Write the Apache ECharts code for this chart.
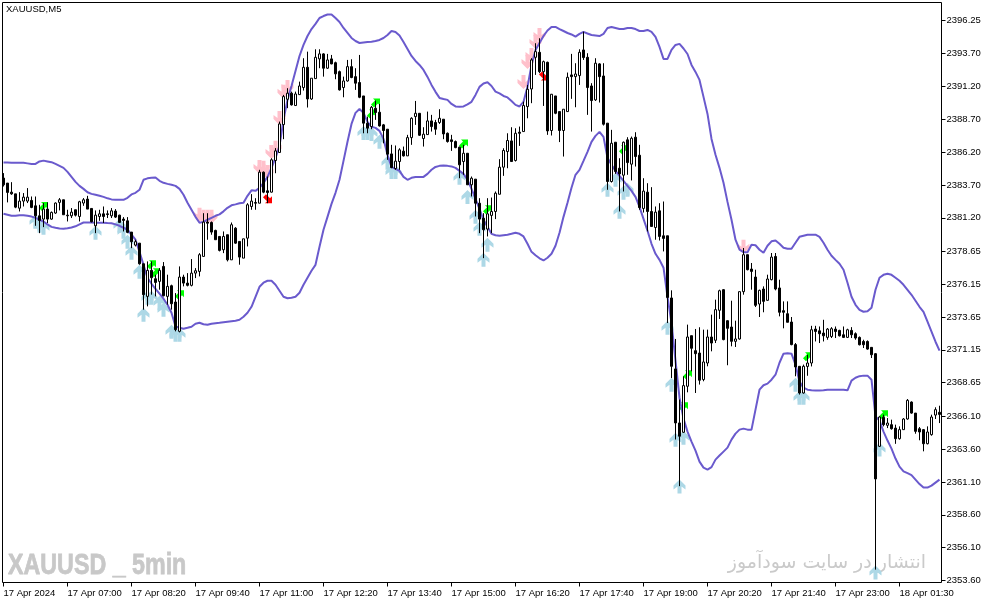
<!DOCTYPE html>
<html><head><meta charset="utf-8">
<style>html,body{margin:0;padding:0;background:#fff}#c{width:987px;height:605px}</style>
<script src="https://cdn.jsdelivr.net/npm/echarts@6/dist/echarts.min.js"></script>
</head><body><div id="c"></div>
<script>
const tickLabels=["17 Apr 2024","17 Apr 07:00","17 Apr 08:20","17 Apr 09:40","17 Apr 11:00","17 Apr 12:20","17 Apr 13:40","17 Apr 15:00","17 Apr 16:20","17 Apr 17:40","17 Apr 19:00","17 Apr 20:20","17 Apr 21:40","17 Apr 23:00","18 Apr 01:30"];
const priceTicks=[2396.25,2393.70,2391.20,2388.70,2386.20,2383.70,2381.20,2378.65,2376.15,2373.65,2371.15,2368.65,2366.10,2363.60,2361.10,2358.60,2356.10,2353.60];
const opens=[2384.22,2383.84,2383.15,2383.02,2381.93,2382.47,2382.47,2382.52,2382.11,2381.35,
2381.10,2381.86,2381.10,2381.56,2382.37,2382.57,2381.40,2381.35,2381.81,2381.30,
2382.32,2382.62,2381.91,2380.59,2381.30,2381.50,2381.50,2381.35,2381.71,2381.40,
2381.10,2380.97,2380.11,2379.12,2379.27,2377.70,2375.22,2377.20,2376.56,2376.36,
2377.50,2375.22,2376.03,2374.79,2372.56,2376.69,2376.23,2376.06,2376.99,2377.12,
2378.26,2380.87,2380.84,2380.24,2379.78,2378.77,2379.91,2378.00,2380.41,2379.40,
2378.13,2379.65,2382.06,2382.36,2382.31,2384.67,2383.25,2383.15,2385.56,2386.17,
2388.29,2390.22,2390.68,2389.74,2390.57,2391.11,2392.65,2390.24,2391.79,2393.29,
2393.67,2392.58,2393.29,2393.00,2392.32,2391.11,2391.61,2392.70,2391.94,2391.49,
2390.47,2388.40,2388.14,2389.53,2389.23,2388.27,2387.94,2386.06,2384.95,2385.48,
2386.27,2385.91,2387.30,2388.90,2389.15,2387.23,2387.53,2388.57,2388.45,2388.45,
2388.70,2387.63,2387.13,2387.00,2386.57,2385.48,2386.11,2383.71,2384.14,2382.31,
2381.17,2380.34,2381.38,2381.68,2382.99,2385.05,2386.24,2387.05,2385.56,2387.71,
2387.76,2389.66,2391.00,2393.41,2393.79,2392.32,2393.03,2387.84,2390.47,2389.28,
2387.84,2389.28,2392.07,2391.94,2392.02,2393.97,2393.41,2391.23,2390.17,2392.91,
2391.99,2388.40,2383.96,2386.95,2384.97,2384.44,2387.13,2385.28,2387.33,2385.96,
2381.91,2383.15,2381.68,2380.46,2381.73,2379.83,2379.83,2375.10,2369.70,2365.59,
2364.88,2368.38,2372.23,2371.09,2370.91,2368.89,2370.15,2372.13,2371.88,2374.16,
2375.73,2373.37,2372.89,2371.80,2371.98,2375.58,2378.39,2377.30,2376.69,2374.64,
2375.78,2374.92,2376.49,2378.26,2375.86,2374.13,2373.90,2373.27,2371.55,2369.90,
2367.87,2369.89,2370.15,2372.73,2372.60,2372.43,2372.10,2372.17,2372.73,2372.63,
2372.30,2372.10,2372.63,2372.38,2372.10,2371.79,2371.79,2371.34,2370.86,2363.81,
2366.02,2365.41,2365.46,2365.20,2364.39,2365.08,2365.89,2367.18,2366.34,2365.15,
2365.08,2364.01,2364.70,2366.19,2366.40];
const highs=[2384.60,2383.84,2383.91,2383.02,2383.15,2383.08,2383.46,2382.82,2382.82,2382.19,
2382.32,2382.37,2381.68,2382.37,2382.70,2382.57,2381.81,2381.94,2381.81,2382.49,
2382.70,2382.87,2381.91,2381.76,2381.81,2382.06,2381.76,2381.94,2381.86,2381.43,
2381.25,2381.25,2380.11,2379.53,2379.27,2377.70,2377.88,2377.88,2376.87,2377.37,
2377.83,2376.87,2376.11,2375.47,2377.50,2376.87,2376.99,2378.06,2377.37,2378.51,
2381.55,2381.55,2380.92,2380.29,2379.78,2380.16,2379.91,2380.84,2380.49,2379.40,
2379.60,2382.31,2383.00,2382.69,2384.85,2384.72,2384.34,2385.73,2386.50,2388.52,
2390.55,2391.06,2390.80,2390.80,2391.56,2393.34,2393.84,2391.82,2394.02,2394.02,
2393.72,2393.67,2393.59,2393.08,2392.40,2391.94,2393.21,2393.26,2392.58,2393.59,
2390.47,2388.90,2389.71,2390.12,2389.86,2388.34,2387.94,2386.75,2386.70,2386.49,
2386.62,2387.51,2388.85,2390.09,2389.15,2388.09,2389.28,2389.03,2388.65,2389.46,
2388.70,2387.69,2387.51,2387.08,2386.62,2386.75,2386.11,2384.34,2384.14,2382.69,
2381.55,2382.69,2382.74,2383.20,2385.66,2386.49,2387.63,2388.09,2388.01,2388.14,
2390.04,2391.31,2393.34,2394.48,2394.86,2393.16,2393.08,2390.62,2390.47,2389.28,
2389.46,2392.25,2393.67,2392.96,2394.02,2395.36,2393.72,2391.44,2393.34,2392.96,
2392.96,2388.40,2387.89,2386.95,2385.73,2387.00,2387.33,2387.38,2387.71,2386.75,
2384.21,2383.83,2383.53,2382.06,2382.31,2382.44,2379.83,2375.68,2371.98,2367.37,
2369.14,2373.07,2372.23,2372.74,2372.87,2372.69,2372.69,2373.83,2374.97,2375.73,
2375.78,2373.40,2374.89,2373.37,2375.60,2378.90,2378.39,2377.76,2377.25,2375.73,
2375.98,2376.87,2378.52,2378.52,2376.49,2374.84,2374.84,2373.65,2371.67,2369.90,
2370.03,2370.78,2372.98,2372.98,2372.93,2373.44,2372.81,2372.88,2372.93,2372.68,
2372.93,2372.76,2372.88,2372.48,2372.17,2371.92,2371.87,2371.36,2370.91,2366.09,
2366.22,2365.96,2365.84,2365.46,2365.33,2365.96,2367.41,2367.23,2366.34,2365.28,
2365.13,2365.33,2366.22,2366.78,2366.90];
const lows=[2383.58,2382.37,2382.95,2381.93,2381.68,2382.06,2382.32,2381.93,2380.59,2380.03,
2380.49,2380.80,2381.05,2381.50,2381.76,2381.43,2380.92,2381.18,2381.30,2380.92,
2382.11,2381.86,2380.85,2380.03,2380.97,2380.80,2381.18,2381.18,2381.18,2380.80,
2380.16,2380.03,2378.89,2379.02,2377.63,2374.21,2374.46,2375.35,2375.22,2375.73,
2375.22,2374.59,2374.21,2372.56,2372.48,2375.98,2375.98,2375.98,2376.61,2376.74,
2378.26,2379.53,2379.91,2379.53,2378.64,2378.51,2377.88,2378.00,2379.22,2377.63,
2378.13,2379.02,2381.81,2381.81,2382.31,2383.07,2382.31,2383.12,2384.59,2386.17,
2387.18,2389.54,2389.74,2389.74,2390.55,2390.88,2389.59,2390.17,2391.79,2392.58,
2391.94,2392.53,2392.88,2391.74,2390.88,2390.37,2391.56,2391.82,2390.93,2390.30,
2387.63,2387.63,2387.94,2388.65,2388.14,2386.87,2385.61,2384.97,2384.85,2384.85,
2385.86,2385.91,2386.75,2388.27,2387.43,2386.62,2387.51,2387.76,2387.51,2388.34,
2387.18,2386.92,2386.29,2386.49,2384.21,2384.47,2383.71,2382.82,2381.30,2380.03,
2378.13,2379.78,2380.03,2381.10,2382.99,2384.39,2384.97,2385.48,2385.48,2386.67,
2387.76,2388.77,2389.92,2392.07,2392.20,2389.71,2387.51,2387.46,2389.08,2386.96,
2385.86,2389.28,2390.25,2389.61,2391.31,2393.21,2389.03,2387.76,2390.09,2389.97,
2388.22,2383.33,2383.88,2384.54,2381.68,2383.20,2384.47,2384.04,2385.10,2381.81,
2381.60,2380.16,2380.54,2379.53,2379.47,2378.64,2373.19,2369.01,2364.33,2360.78,
2364.83,2367.92,2369.52,2367.87,2368.51,2368.76,2369.90,2371.04,2371.67,2373.50,
2371.88,2369.98,2371.42,2371.37,2371.93,2375.35,2377.20,2375.73,2374.41,2373.65,
2374.01,2374.89,2376.44,2375.68,2373.70,2372.79,2373.25,2371.50,2369.14,2367.75,
2367.82,2369.18,2369.89,2371.79,2371.67,2371.79,2371.92,2372.05,2372.05,2372.17,
2372.05,2372.05,2372.05,2371.92,2371.49,2371.29,2371.16,2370.53,2354.43,2363.76,
2365.33,2365.20,2365.08,2364.00,2364.32,2365.08,2365.84,2366.29,2364.77,2364.27,
2363.43,2363.96,2364.62,2365.89,2365.58];
const closes=[2383.71,2383.13,2383.02,2382.01,2382.47,2382.77,2382.77,2381.99,2381.35,2381.00,
2381.86,2381.10,2381.61,2382.32,2382.57,2381.43,2381.35,2381.63,2381.40,2382.42,
2382.57,2381.86,2380.90,2381.40,2381.50,2381.30,2381.45,2381.73,2381.25,2380.85,
2381.00,2380.09,2379.38,2379.38,2377.70,2375.35,2377.20,2376.64,2376.28,2377.20,
2375.27,2375.98,2374.66,2372.69,2376.69,2376.23,2376.06,2376.99,2377.17,2378.39,
2380.87,2380.79,2380.11,2379.53,2378.72,2379.78,2378.00,2380.67,2379.27,2378.21,
2379.60,2382.19,2382.47,2382.31,2384.67,2383.15,2383.12,2385.61,2386.29,2388.34,
2390.42,2390.68,2389.79,2390.62,2391.23,2392.65,2390.24,2391.82,2393.41,2393.67,
2392.58,2393.21,2392.91,2392.15,2390.93,2391.61,2392.70,2391.87,2391.44,2390.37,
2388.40,2388.02,2389.61,2389.21,2388.19,2387.84,2386.04,2385.02,2385.51,2386.37,
2385.91,2387.30,2388.77,2389.15,2387.48,2387.56,2388.57,2388.14,2387.94,2388.77,
2387.58,2387.00,2387.00,2386.54,2385.23,2386.11,2383.71,2384.21,2382.31,2381.10,
2380.29,2381.50,2381.68,2383.07,2385.05,2386.32,2387.08,2385.48,2387.63,2387.63,
2389.74,2390.98,2393.21,2393.84,2392.32,2393.08,2387.81,2390.60,2389.15,2387.84,
2389.46,2391.89,2391.94,2392.14,2393.79,2393.39,2391.11,2390.12,2392.96,2391.94,
2388.32,2383.96,2386.87,2384.72,2384.54,2386.95,2385.40,2387.25,2385.86,2381.98,
2383.23,2381.68,2380.54,2381.63,2379.78,2379.63,2375.14,2369.90,2365.59,2364.58,
2368.43,2372.13,2371.27,2370.86,2368.84,2370.23,2372.13,2371.67,2374.21,2375.65,
2371.93,2372.79,2371.80,2371.98,2375.58,2378.39,2377.25,2377.12,2374.54,2375.68,
2374.84,2376.54,2378.21,2375.78,2374.01,2374.01,2373.25,2371.55,2369.85,2367.87,
2369.90,2370.15,2372.68,2372.55,2372.38,2372.22,2372.73,2372.76,2372.55,2372.22,
2372.10,2372.68,2372.30,2372.05,2371.54,2371.54,2371.21,2370.78,2361.33,2366.04,
2365.46,2365.58,2365.15,2364.39,2365.08,2365.89,2367.31,2366.34,2364.95,2364.90,
2364.01,2364.90,2366.04,2366.60,2366.24];
const upperBand=[2385.40,2385.40,2385.38,2385.38,2385.38,2385.38,2385.34,2385.30,2385.30,2385.49,
2385.55,2385.49,2385.43,2385.30,2385.15,2385.00,2384.69,2384.31,2383.93,2383.63,
2383.40,2383.14,2383.02,2382.95,2382.87,2382.79,2382.68,2382.60,2382.57,2382.57,
2382.57,2382.72,2382.98,2383.10,2383.33,2384.09,2384.20,2384.24,2384.26,2384.01,
2383.86,2383.78,2383.71,2383.63,2383.40,2382.95,2382.34,2381.81,2381.27,2380.82,
2380.89,2381.05,2381.20,2381.35,2381.46,2381.69,2381.96,2382.15,2382.22,2382.30,
2382.34,2382.87,2383.29,2383.25,2383.48,2383.86,2384.31,2385.00,2385.76,2386.67,
2388.65,2390.17,2391.23,2392.37,2393.51,2394.35,2395.03,2395.56,2395.95,2396.40,
2396.55,2396.67,2396.67,2396.40,2396.10,2395.64,2395.26,2394.88,2394.65,2394.50,
2394.54,2394.58,2394.60,2394.65,2394.73,2394.88,2395.11,2395.41,2395.34,2395.07,
2394.58,2394.05,2393.51,2393.13,2392.83,2392.45,2391.92,2391.31,2390.78,2390.32,
2390.24,2390.17,2389.86,2389.67,2389.64,2389.67,2389.83,2390.02,2390.55,2391.16,
2391.42,2391.51,2391.23,2390.80,2390.66,2390.47,2390.36,2390.09,2389.79,2389.67,
2390.02,2391.16,2392.83,2393.97,2394.50,2395.03,2395.45,2395.72,2395.72,2395.56,
2395.41,2395.26,2395.15,2394.98,2395.19,2395.34,2395.22,2395.11,2395.07,2395.03,
2395.19,2395.64,2395.72,2395.64,2395.56,2395.56,2395.64,2395.64,2395.56,2395.41,
2395.41,2395.49,2395.34,2394.96,2394.20,2393.29,2393.29,2393.97,2394.35,2394.43,
2394.08,2393.66,2392.83,2392.30,2391.69,2390.40,2389.10,2387.20,2385.99,2385.00,
2383.86,2382.41,2381.05,2379.53,2378.77,2378.58,2378.58,2379.15,2379.11,2378.77,
2378.54,2379.07,2379.41,2379.47,2379.22,2378.92,2378.84,2378.84,2379.30,2379.75,
2379.83,2379.91,2379.91,2379.91,2379.75,2379.30,2378.77,2378.31,2378.00,2377.70,
2377.25,2376.26,2375.19,2374.58,2374.20,2374.05,2374.09,2374.36,2375.72,2376.64,
2376.86,2376.94,2376.86,2376.64,2376.41,2376.10,2375.72,2375.34,2374.89,2374.43,
2374.05,2373.29,2372.53,2371.77,2371.09];
const lowerBand=[2381.50,2381.43,2381.35,2381.35,2381.39,2381.39,2381.35,2381.29,2381.20,2381.05,
2380.92,2380.70,2380.51,2380.44,2380.38,2380.36,2380.40,2380.46,2380.55,2380.70,
2380.84,2380.84,2380.84,2380.83,2380.82,2380.82,2380.80,2380.79,2380.70,2380.59,
2380.44,2380.29,2379.91,2379.53,2378.61,2377.62,2376.64,2376.18,2375.80,2375.42,
2375.04,2374.58,2373.97,2372.93,2372.83,2372.76,2372.83,2372.91,2373.14,2373.21,
2373.10,2373.06,2373.14,2373.18,2373.21,2373.25,2373.29,2373.33,2373.37,2373.44,
2373.67,2373.97,2374.43,2375.19,2375.95,2376.26,2376.41,2376.41,2376.10,2375.65,
2375.19,2375.08,2375.12,2375.19,2375.50,2376.10,2376.64,2377.17,2377.62,2379.00,
2380.29,2381.27,2382.26,2383.10,2384.09,2385.53,2386.98,2388.34,2389.18,2389.48,
2389.18,2388.50,2388.12,2388.04,2387.81,2387.20,2385.99,2385.07,2384.92,2384.77,
2384.31,2384.09,2384.24,2384.31,2384.31,2384.31,2384.54,2384.85,2385.07,2385.15,
2385.17,2385.15,2385.11,2385.00,2384.77,2384.54,2384.09,2383.40,2382.64,2381.88,
2381.05,2380.51,2379.98,2379.87,2379.83,2379.87,2379.91,2379.98,2380.06,2379.98,
2379.78,2379.22,2378.61,2378.35,2378.12,2377.95,2378.16,2378.46,2379.07,2380.06,
2381.27,2382.34,2383.48,2384.47,2384.85,2385.53,2386.22,2386.98,2387.43,2387.74,
2387.36,2385.76,2385.23,2384.77,2384.39,2384.01,2383.63,2383.25,2382.79,2382.03,
2381.12,2380.21,2379.22,2378.46,2378.00,2377.40,2375.19,2373.21,2370.33,2367.51,
2365.92,2364.93,2364.17,2363.48,2362.65,2362.19,2362.04,2362.23,2362.80,2363.11,
2363.41,2363.71,2364.32,2364.78,2365.08,2365.16,2365.08,2365.08,2366.60,2368.12,
2368.46,2368.58,2368.88,2369.26,2370.17,2370.86,2370.90,2370.86,2370.02,2368.73,
2368.27,2368.12,2368.08,2368.05,2368.05,2368.08,2368.12,2368.12,2368.12,2368.12,
2368.12,2368.07,2368.81,2369.03,2369.15,2369.19,2369.19,2368.88,2366.09,2365.77,
2364.93,2364.25,2363.64,2362.88,2362.27,2361.91,2361.77,2361.62,2361.28,2360.94,
2360.67,2360.67,2360.82,2361.05,2361.28];
const blueArrows=[[8,2380.89],[9,2380.59],[10,2380.44],[23,2380.06],[29,2380.59],[30,2380.13],[31,2379.37],[32,2378.54],[34,2377.09],[35,2373.82],[36,2375.12],[37,2375.12],[39,2374.73],[40,2374.20],[42,2372.53],[43,2372.30],[44,2372.30],[90,2387.66],[91,2387.66],[92,2387.58],[94,2386.98],[96,2385.38],[97,2384.69],[98,2384.69],[114,2384.24],[116,2382.79],[118,2381.27],[119,2380.36],[121,2379.14],[120,2378.00],[151,2383.33],[153,2384.09],[154,2381.65],[155,2383.10],[156,2383.33],[166,2372.84],[167,2368.50],[168,2364.32],[169,2360.75],[170,2364.47],[198,2368.50],[199,2367.51],[200,2367.51],[218,2354.21],[219,2363.56]];
const pinkArrows=[[49,2381.43],[50,2381.27],[51,2381.27],[52,2381.27],[64,2385.07],[65,2385.00],[66,2384.69],[67,2386.21],[68,2386.52],[69,2388.80],[70,2390.78],[71,2391.16],[130,2391.54],[131,2393.06],[132,2393.59],[133,2394.58],[134,2395.11],[185,2378.99]];
const greenArrows=[[10,2382.06],[37,2377.62],[38,2377.02],[44,2375.34],[93,2389.94],[92,2389.10],[115,2386.82],[121,2381.81],[155,2386.37],[171,2369.26],[170,2366.83],[201,2370.63],[220,2366.22]];
const redArrows=[[66,2382.64],[135,2391.99]];

const categories=opens.map((_,i)=>i%16===0&&tickLabels[i/16]?tickLabels[i/16]:'');
const candles=opens.map((o,i)=>[o,closes[i],lows[i],highs[i]]);
const upPath='path://M6 0L12 6L12 10L8 7L8 14L4 14L4 7L0 10L0 6Z';
const downPath='path://M4 0L8 0L8 7L12 4L12 8L6 14L0 8L0 4L4 7Z';
const upRight='path://M2 0L9 0L9 7L7 5L3 9L0 6L4 2Z';
const downRight='path://M0 3L3 0L7 4L9 2L9 9L2 9L4 7Z';
const font='"Liberation Sans",sans-serif';
const chart=echarts.init(document.getElementById('c'),null,{renderer:'canvas'});
const marks=(name,data,symbol,size,color)=>({name,type:'scatter',data,symbol,symbolSize:size,z:1,silent:true,itemStyle:{color,opacity:1}});
chart.setOption({
 animation:false,backgroundColor:'#fff',
 grid:{left:1.5,right:45.5,top:2.5,bottom:22.5,show:false},
 xAxis:{type:'category',data:categories,boundaryGap:true,
  axisLine:{show:false},
  axisTick:{show:true,interval:15,alignWithLabel:true,length:4,lineStyle:{color:'#000'}},
  axisLabel:{interval:15,align:'left',margin:6,color:'#000',fontFamily:font,fontSize:9.5},
  splitLine:{show:false}},
 yAxis:{type:'value',position:'right',min:2353.45,max:2397.58,
  axisLine:{show:false},
  axisTick:{show:true,length:4,customValues:priceTicks,lineStyle:{color:'#000'}},
  axisLabel:{margin:5,customValues:priceTicks,color:'#000',fontFamily:font,fontSize:9.5,formatter:v=>Number(v).toFixed(2),showMinLabel:true,showMaxLabel:true},
  splitLine:{show:false}},
 graphic:[
  {type:'rect',z:100,silent:true,shape:{x:2.5,y:2.5,width:939,height:580},style:{fill:'none',stroke:'#000',lineWidth:1}},
  {type:'text',left:6,top:4,z:10,style:{text:'XAUUSD,M5',fill:'#000',font:'9.5px '+font}},
  {type:'text',x:8,y:551,scaleX:0.775,z:0,style:{text:'XAUUSD _ 5min',fill:'#c8c8c8',stroke:'#c8c8c8',lineWidth:0.8,font:'bold 30px "Liberation Sans",sans-serif'}},
  {type:'text',right:61,top:554,z:0,style:{text:'انتشار در سایت سودآموز',fill:'#cacaca',font:'19px "DejaVu Sans",sans-serif'}}
 ],
 series:[
  marks('Buy zone',blueArrows,upPath,[12,14],'#ADD8E6'),
  marks('Sell zone',pinkArrows,downPath,[12,14],'#FFC0CB'),
  marks('Buy',greenArrows,upRight,[9,9],'#00FF00'),
  marks('Sell',redArrows,downRight,[9,9],'#FF0000'),
  {name:'Upper',type:'line',data:upperBand,showSymbol:false,z:2,silent:true,lineStyle:{color:'#6A5ACD',width:2}},
  {name:'Lower',type:'line',data:lowerBand,showSymbol:false,z:2,silent:true,lineStyle:{color:'#6A5ACD',width:2}},
  {name:'XAUUSD',type:'candlestick',data:candles,barWidth:3,z:3,silent:true,
   itemStyle:{color:'#fff',color0:'#000',borderColor:'#000',borderColor0:'#000',borderColorDoji:'#000',borderWidth:1}}
 ]
});
</script></body></html>
